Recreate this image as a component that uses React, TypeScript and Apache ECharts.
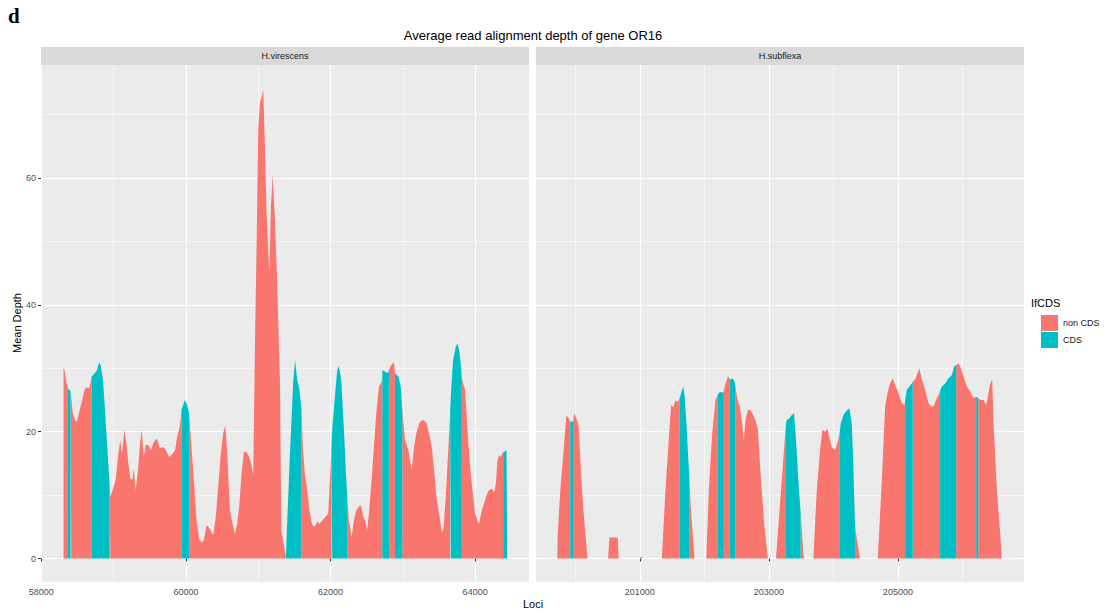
import React, { useEffect, useRef } from "react";
import * as echarts from "echarts";

// ---------- DATA ----------
const panels = ["H.virescens", "H.subflexa"];
const yTicks = [0, 20, 40, 60];
const yMinor = [10, 30, 50, 70];
const virescensTicks = [58000, 60000, 62000, 64000];
const virescensMinor = [59000, 61000, 63000];
const subflexaTicks = [201000, 203000, 205000];
const subflexaMinor = [200000, 202000, 204000, 206000];
const legendLabels = ["non CDS", "CDS"];

// H.virescens: locus, mean depth, IfCDS (1 = CDS) of the bar starting at that locus
const virescensLoci = [
  58307, 58307, 58321, 58344, 58367, 58404, 58413, 58436, 58469, 58492, 58529, 58566, 58598, 58621, 58658, 58677,
  58695, 58737, 58769, 58797, 58820, 58852, 58880, 58912, 58945, 58954, 58991, 59028, 59060, 59092, 59115, 59148,
  59176, 59203, 59231, 59259, 59277, 59305, 59337, 59360, 59388, 59416, 59443, 59480, 59517, 59554, 59600, 59637,
  59684, 59721, 59767, 59822, 59850, 59878, 59915, 59938, 59984, 60016, 60044, 60076, 60109, 60146, 60182, 60215,
  60247, 60284, 60330, 60376, 60413, 60446, 60478, 60515, 60543, 60570, 60607, 60644, 60677, 60709, 60737, 60769,
  60801, 60838, 60875, 60908, 60931, 60954, 60977, 61000, 61023, 61051, 61069, 61092, 61115, 61152, 61176, 61199,
  61231, 61263, 61300, 61320, 61379, 61383, 61429, 61484, 61510, 61538, 61570, 61598, 61617, 61644, 61677, 61709,
  61746, 61783, 61815, 61848, 61885, 61931, 61968, 61991, 62014, 62023, 62060, 62092, 62115, 62148, 62185, 62217,
  62231, 62254, 62291, 62323, 62356, 62393, 62420, 62448, 62476, 62508, 62531, 62568, 62600, 62633, 62670, 62707,
  62716, 62753, 62785, 62808, 62831, 62878, 62891, 62938, 62970, 62993, 63030, 63076, 63122, 63155, 63187, 63224,
  63261, 63293, 63330, 63363, 63400, 63432, 63464, 63501, 63538, 63561, 63594, 63630, 63654, 63663, 63695, 63732,
  63755, 63778, 63801, 63815, 63834, 63861, 63894, 63926, 63963, 64000, 64032, 64055, 64092, 64124, 64157, 64194,
  64231, 64263, 64286, 64309, 64332, 64355, 64378, 64388, 64402, 64434, 64443, 64443,
];
const virescensDepth = [
  0, 30, 29.7, 27.9, 26.8, 26.4, 25.3, 22.9, 21.8, 21.6, 23.4, 25, 26.6, 27, 26.8, 27.6,
  28.7, 29.2, 29.7, 30.9, 30.5, 28.2, 23.4, 17.6, 11.3, 9.7, 11, 12.4, 16, 18.7, 16.6, 20.3,
  18.2, 15, 12.6, 12.4, 14.2, 10.8, 13.9, 17.6, 20.3, 16, 17.9, 17.9, 17.1, 18.4, 18.9, 17.4,
  17.6, 17.1, 16, 16.6, 17.1, 19.2, 20.8, 23.4, 25, 24.2, 22.9, 17.6, 12.4, 6, 3.2, 2.5,
  2.9, 5.3, 4.7, 3.7, 6.6, 11.3, 16, 19.7, 21, 17.1, 7.6, 5.5, 3.9, 5.5, 8.2, 13.4,
  16.8, 16.8, 16, 14.7, 13.2, 33.4, 49.2, 67.6, 71.8, 72.9, 73.9, 65, 54.5, 45, 55.5, 60.5,
  53.4, 42.9, 28.2, 4.4, 0.5, 0.5, 14, 28, 31.3, 28.2, 26.6, 23.4, 17.6, 13.4, 10.8, 7.6,
  5.3, 5, 5.8, 5.5, 6, 6.6, 7.1, 12.4, 18, 20.3, 25.5, 29.7, 30.3, 28.2, 20.3, 12.4,
  9.7, 6, 3.4, 6, 7.6, 8.2, 8.4, 6.8, 6, 4.5, 7.1, 12.4, 17.6, 22.9, 27.1, 27.9,
  29.7, 29.5, 29.2, 29.7, 30.3, 31, 29.2, 28.7, 27.1, 23.4, 18.7, 17.1, 13.9, 17.6, 19.7, 21.3,
  21.8, 21.8, 21.3, 19.7, 17.6, 13.9, 9.7, 7.1, 4.2, 4.5, 9.7, 17.6, 23, 25.5, 31.3, 33.4,
  33.9, 32.9, 30.8, 28.5, 27.6, 26.6, 20.3, 15, 10.8, 7.1, 6, 5.5, 7.6, 8.7, 10, 10.8,
  11, 10.5, 11.8, 15.5, 16.3, 16, 16.6, 16.8, 16.8, 17.1, 17.1, 0,
];
const virescensCDS = [
  0, 0, 0, 0, 1, 0, 0, 0, 0, 0, 0, 0, 0, 0, 0, 0,
  1, 1, 1, 1, 1, 1, 1, 1, 0, 0, 0, 0, 0, 0, 0, 0,
  0, 0, 0, 0, 0, 0, 0, 0, 0, 0, 0, 0, 0, 0, 0, 0,
  0, 0, 0, 0, 0, 0, 0, 1, 1, 1, 0, 0, 0, 0, 0, 0,
  0, 0, 0, 0, 0, 0, 0, 0, 0, 0, 0, 0, 0, 0, 0, 0,
  0, 0, 0, 0, 0, 0, 0, 0, 0, 0, 0, 0, 0, 0, 0, 0,
  0, 0, 0, 0, 0, 1, 1, 1, 1, 1, 1, 0, 0, 0, 0, 0,
  0, 0, 0, 0, 0, 0, 0, 0, 1, 1, 1, 1, 1, 1, 1, 1,
  0, 0, 0, 0, 0, 0, 0, 0, 0, 0, 0, 0, 0, 0, 0, 0,
  1, 1, 1, 0, 0, 0, 1, 1, 1, 0, 0, 0, 0, 0, 0, 0,
  0, 0, 0, 0, 0, 0, 0, 0, 0, 0, 0, 0, 1, 1, 1, 1,
  1, 1, 1, 0, 0, 0, 0, 0, 0, 0, 0, 0, 0, 0, 0, 0,
  0, 0, 0, 0, 0, 0, 0, 1, 1, 1, 1, 1,
];

// H.subflexa
const subflexaLoci = [
  199720, 199726, 199767, 199819, 199860, 199897, 199922, 199964, 199984, 200016, 200052, 200088, 200129, 200181, 200191,
  200507, 200528, 200657, 200672, 201000, 201003, 201036, 201040,
  201340, 201345, 201397, 201448, 201485, 201516, 201552, 201588, 201619, 201655, 201671, 201692, 201723, 201743, 201764, 201795, 201836, 201847,
  202028, 202033, 202069, 202121, 202173, 202209, 202224, 202261, 202292, 202302, 202328, 202364, 202390, 202405, 202436, 202467, 202483,
  202509, 202550, 202586, 202612, 202638, 202674, 202716, 202757, 202793, 202830, 202871, 202923, 202975, 202985,
  203110, 203265, 203276, 203317, 203353, 203390, 203421, 203457, 203493, 203534, 203545,
  203690, 203741, 203793, 203829, 203871, 203907, 203938, 203974, 204026, 204067, 204093, 204114, 204155, 204197, 204248,
  204285, 204310, 204336, 204372, 204414,
  204688, 204750, 204802, 204838, 204879, 204921, 204957, 205009, 205060, 205102, 205112, 205138, 205179, 205216, 205231,
  205267, 205304, 205335, 205371, 205423, 205474, 205526, 205562, 205604, 205645, 205655, 205681, 205733, 205785, 205836,
  205873, 205904, 205940, 205976, 206017, 206069, 206121, 206173, 206214, 206245, 206276, 206328, 206370, 206405, 206431,
  206462, 206483, 206535, 206587, 206612,
];
const subflexaDepth = [
  0, 3.7, 10.8, 17.1, 22.6, 22.1, 21.6, 21.6, 22.9, 22.1, 20.8, 13.4, 7.1, 0.8, 0,
  0, 3.3, 3.3, 0, 0, 0.2, 0.2, 0,
  0, 0.8, 10.8, 18.7, 24.2, 23.9, 24.9, 24.7, 25.3, 26.6, 27.1, 25.8, 21.3, 17.1, 13.4, 7.1, 1.8, 0,
  0, 0.8, 10.8, 19.7, 25, 25.8, 26.1, 26.3, 26.1, 26.5, 27.6, 28.7, 28.4, 28.2, 28.4, 27.9, 27,
  25.3, 23.9, 21.3, 18.7, 21.8, 23.4, 23.4, 22.6, 21.8, 20.3, 13.4, 6, 0.8, 0,
  0, 21.3, 21.8, 22.1, 22.6, 22.9, 18.7, 12.4, 7.1, 0.8, 0,
  0, 10.5, 17.1, 20.3, 20, 20.5, 19.2, 17.6, 17.1, 18.4, 19.5, 21.3, 22.6, 23.2, 23.7,
  21.3, 14.5, 5, 2.6, 0,
  0, 12, 23.9, 26.1, 27.6, 28.4, 27.4, 26.1, 24.5, 24.2, 25, 26.6, 27.1, 27.6, 27.9,
  28.2, 29.2, 30, 28.2, 26.6, 24.5, 23.9, 24.2, 25.3, 26.1, 26.5, 27.1, 27.6, 28.4, 28.9,
  30.3, 30.5, 30.8, 30, 28.7, 27.1, 26.3, 25.3, 25.5, 25.3, 25, 25, 24.2, 26.1, 27.6,
  28.2, 21.3, 10.8, 3.9, 0,
];
const subflexaCDS = [
  0, 0, 0, 0, 0, 0, 1, 0, 0, 0, 0, 0, 0, 0, 0,
  0, 0, 0, 0, 0, 0, 0, 0,
  0, 0, 0, 0, 0, 0, 0, 0, 1, 1, 1, 1, 1, 1, 0, 0, 0, 0,
  0, 0, 0, 0, 0, 1, 1, 1, 1, 0, 0, 0, 1, 1, 1, 1, 0,
  0, 0, 0, 0, 0, 0, 0, 0, 0, 0, 0, 0, 0, 0,
  0, 1, 1, 1, 1, 1, 1, 1, 0, 0, 0,
  0, 0, 0, 0, 0, 0, 0, 0, 0, 0, 1, 1, 1, 1, 1,
  1, 1, 0, 0, 0,
  0, 0, 0, 0, 0, 0, 0, 0, 0, 0, 1, 1, 1, 1, 0,
  0, 0, 0, 0, 0, 0, 0, 0, 0, 0, 1, 1, 1, 1, 1,
  1, 0, 0, 0, 0, 0, 0, 0, 1, 0, 0, 0, 0, 0, 0,
  0, 0, 0, 0, 0,
];

// ---------- STYLE ----------
const RED = "#F8766D";
const TEAL = "#00BFC4";
const FONT = "'Liberation Sans', Arial, Helvetica, sans-serif";

function splitRuns(loci: number[], depth: number[], cds: number[]) {
  const non: any[] = [];
  const cd: any[] = [];
  const n = loci.length;
  let i = 0;
  while (i < n - 1) {
    const f = cds[i];
    let j = i;
    while (j < n - 1 && cds[j] === f) j++;
    const target = f ? cd : non;
    if (target.length) target.push([loci[i], null]);
    for (let k = i; k <= j; k++) target.push([loci[k], depth[k]]);
    i = j;
  }
  return { non, cd };
}

function areaSeries(name: string, data: any[], color: string, idx: number) {
  return {
    name,
    type: "line",
    xAxisIndex: idx * 2,
    yAxisIndex: idx * 2,
    data,
    symbol: "none",
    showSymbol: false,
    connectNulls: false,
    silent: true,
    lineStyle: { width: 0, opacity: 0 },
    areaStyle: { color, opacity: 1, origin: 0 },
    z: 3,
  };
}

export default function App() {
  const ref = useRef<HTMLDivElement>(null);
  useEffect(() => {
    if (!ref.current) return;
    const chart = echarts.init(ref.current, null, { renderer: "svg" });
    const gridLeft = [41, 536];
    const gridWidth = 488;
    const gridTop = 65;
    const gridHeight = 517;
    const xRanges = [
      [57995, 64745],
      [199390, 206955],
    ];
    const majors = [virescensTicks, subflexaTicks];
    const minors = [virescensMinor, subflexaMinor];
    const plain = (val: number) => String(val);

    const xAxis: any[] = [];
    const yAxis: any[] = [];
    [0, 1].forEach((g) => {
      xAxis.push({
        type: "value",
        gridIndex: g,
        position: "bottom",
        min: xRanges[g][0],
        max: xRanges[g][1],
        axisLine: { show: false },
        axisTick: { show: true, customValues: majors[g], length: 3, lineStyle: { color: "#333333", width: 1 } },
        axisLabel: {
          show: true,
          customValues: majors[g],
          formatter: plain,
          fontSize: 9,
          color: "#4d4d4d",
          fontFamily: FONT,
          margin: 5,
        },
        splitLine: { show: true, lineStyle: { color: "#ffffff", width: 1.1 } },
      });
      xAxis.push({
        type: "value",
        gridIndex: g,
        position: "top",
        min: xRanges[g][0],
        max: xRanges[g][1],
        axisLine: { show: false },
        axisTick: { show: false, customValues: minors[g] },
        axisLabel: { show: false, customValues: minors[g] },
        splitLine: { show: true, lineStyle: { color: "#ffffff", width: 0.55 } },
      });
      yAxis.push({
        type: "value",
        gridIndex: g,
        position: "left",
        min: -3.7,
        max: 77.8,
        axisLine: { show: false },
        axisTick: { show: g === 0, customValues: yTicks, length: 3, lineStyle: { color: "#333333", width: 1 } },
        axisLabel: {
          show: g === 0,
          customValues: yTicks,
          formatter: plain,
          fontSize: 9,
          color: "#4d4d4d",
          fontFamily: FONT,
          margin: 5,
        },
        splitLine: { show: true, lineStyle: { color: "#ffffff", width: 1.1 } },
      });
      yAxis.push({
        type: "value",
        gridIndex: g,
        position: "right",
        min: -3.7,
        max: 77.8,
        axisLine: { show: false },
        axisTick: { show: false, customValues: yMinor },
        axisLabel: { show: false, customValues: yMinor },
        splitLine: { show: true, lineStyle: { color: "#ffffff", width: 0.55 } },
      });
    });

    const v = splitRuns(virescensLoci, virescensDepth, virescensCDS);
    const s = splitRuns(subflexaLoci, subflexaDepth, subflexaCDS);

    const graphic: any[] = [
      { type: "text", left: 8, top: 5, style: { text: "d", font: "bold 21px 'Liberation Serif', 'Times New Roman', serif", fill: "#000" } },
      { type: "text", x: 533, y: 35, style: { text: "Average read alignment depth of gene OR16", font: `13px ${FONT}`, fill: "#000", align: "center", verticalAlign: "middle" } },
      { type: "text", x: 533, y: 604, style: { text: "Loci", font: `11px ${FONT}`, fill: "#000", align: "center", verticalAlign: "middle" } },
      { type: "text", x: 17, y: 323, rotation: Math.PI / 2, style: { text: "Mean Depth", font: `11px ${FONT}`, fill: "#000", align: "center", verticalAlign: "middle" } },
      { type: "text", x: 1031, y: 303, style: { text: "IfCDS", font: `11px ${FONT}`, fill: "#000", verticalAlign: "middle" } },
      { type: "rect", shape: { x: 1041, y: 315, width: 17, height: 16 }, style: { fill: RED } },
      { type: "rect", shape: { x: 1041, y: 332, width: 17, height: 16 }, style: { fill: TEAL } },
      { type: "text", x: 1063, y: 323, style: { text: legendLabels[0], font: `9px ${FONT}`, fill: "#1a1a1a", verticalAlign: "middle" } },
      { type: "text", x: 1063, y: 340, style: { text: legendLabels[1], font: `9px ${FONT}`, fill: "#1a1a1a", verticalAlign: "middle" } },
    ];
    [0, 1].forEach((g) => {
      graphic.push({ type: "rect", shape: { x: gridLeft[g], y: 47, width: gridWidth, height: 18 }, style: { fill: "#d9d9d9" } });
      graphic.push({
        type: "text",
        x: gridLeft[g] + gridWidth / 2,
        y: 56,
        style: { text: panels[g], font: `9px ${FONT}`, fill: "#1a1a1a", align: "center", verticalAlign: "middle" },
      });
    });

    chart.setOption({
      animation: false,
      backgroundColor: "#ffffff",
      grid: [0, 1].map((g) => ({
        left: gridLeft[g],
        top: gridTop,
        width: gridWidth,
        height: gridHeight,
        show: true,
        backgroundColor: "#ebebeb",
        borderWidth: 0,
        containLabel: false,
      })),
      xAxis,
      yAxis,
      series: [
        areaSeries("non CDS", v.non, RED, 0),
        areaSeries("CDS", v.cd, TEAL, 0),
        areaSeries("non CDS", s.non, RED, 1),
        areaSeries("CDS", s.cd, TEAL, 1),
      ],
      graphic,
    });
    return () => chart.dispose();
  }, []);
  return <div ref={ref} style={{ position: "absolute", left: 0, top: 0, width: 1107, height: 613 }} />;
}
